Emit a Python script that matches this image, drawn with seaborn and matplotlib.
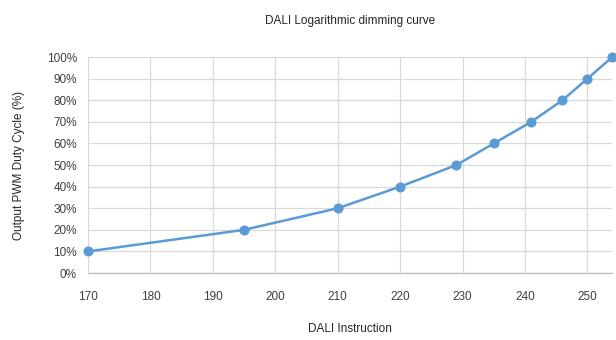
import matplotlib
matplotlib.use("Agg")
import matplotlib.pyplot as plt
import seaborn as sns
import pandas as pd
from matplotlib.ticker import FuncFormatter

# DALI 指令值与对应的 PWM 占空比
dali_instruction = [170, 195, 210, 220, 229, 235, 241, 246, 250, 254]
duty_cycle = [10, 20, 30, 40, 50, 60, 70, 80, 90, 100]
x_ticks = [170, 180, 190, 200, 210, 220, 230, 240, 250]
y_ticks = [0, 10, 20, 30, 40, 50, 60, 70, 80, 90, 100]

df = pd.DataFrame({'instruction': dali_instruction, 'duty': duty_cycle})

sns.set_theme(style='white')
plt.rcParams['font.family'] = ['Liberation Sans', 'DejaVu Sans']

fig = plt.figure(figsize=(6.16, 3.40), dpi=100)
ax = fig.add_axes([0.143, 0.197, 0.851, 0.635])

line_color = '#5B9BD5'
sns.lineplot(data=df, x='instruction', y='duty', ax=ax, color=line_color,
             linewidth=1.8, marker='o', markersize=6.5,
             markeredgecolor=line_color, markerfacecolor=line_color, clip_on=False)

ax.set_xlim(170, 254)
ax.set_ylim(0, 100)
ax.set_xticks(x_ticks)
ax.set_yticks(y_ticks)
ax.yaxis.set_major_formatter(FuncFormatter(lambda v, _: f'{v:.0f}%'))
ax.grid(True, color='#d9d9d9', linewidth=0.9)
ax.set_axisbelow(True)

for side in ['top', 'right', 'left']:
    ax.spines[side].set_visible(False)
ax.spines['bottom'].set_color('#bfbfbf')
ax.spines['bottom'].set_linewidth(0.9)

ax.tick_params(axis='both', length=0, labelsize=8.5, colors='#404040')
ax.tick_params(axis='x', pad=13)
ax.tick_params(axis='y', pad=8)

ax.set_title('DALI Logarithmic dimming curve', fontsize=8.5, color='#262626', pad=24)
ax.set_xlabel('DALI Instruction', fontsize=8.5, color='#262626', labelpad=14)
ax.set_ylabel('Output PWM Duty Cycle (%)', fontsize=8.5, color='#262626', labelpad=16)

fig.savefig('out.png', dpi=100)
